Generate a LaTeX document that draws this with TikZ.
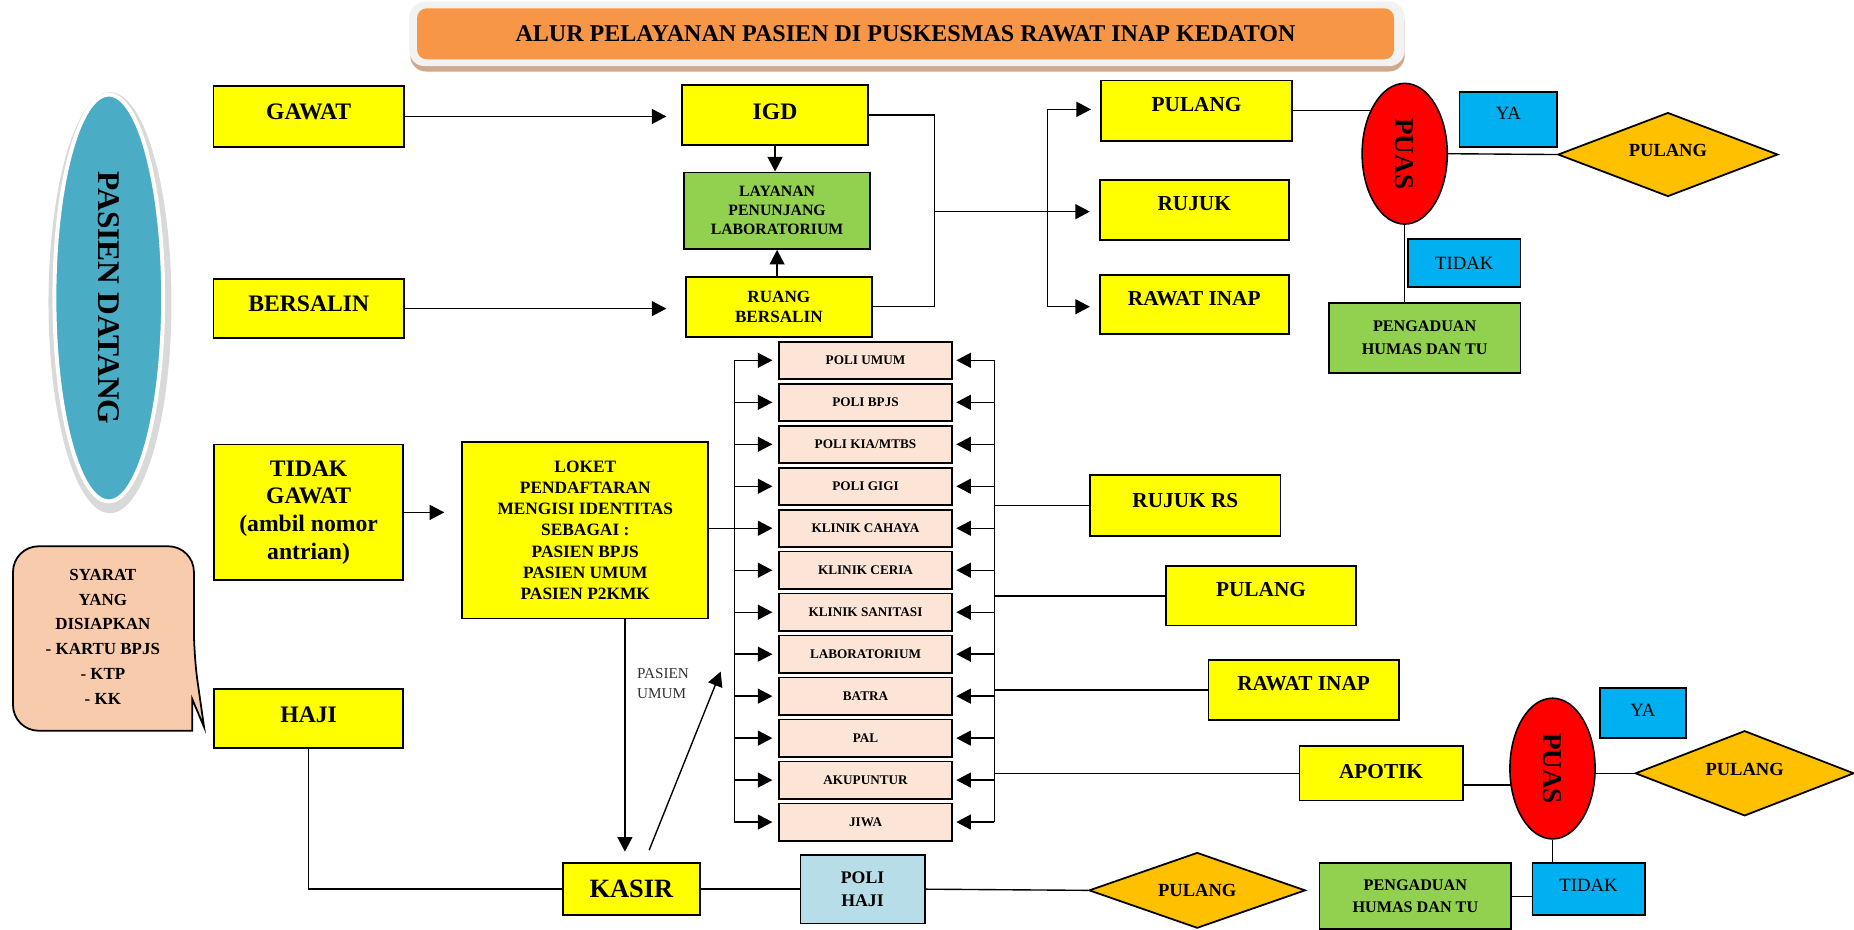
\documentclass[tikz,border=0pt]{standalone}
\usepackage{fontspec}
\setmainfont{Liberation Serif}
\usetikzlibrary{arrows.meta,shapes.geometric}
\pgfdeclarelayer{bg}
\pgfsetlayers{bg,main}
\definecolor{yel}{HTML}{FFFF00}
\definecolor{grn}{HTML}{92D050}
\definecolor{peach}{HTML}{FCE4D6}
\definecolor{sky}{HTML}{00B0F0}
\definecolor{gold}{HTML}{FFC000}
\definecolor{titleor}{HTML}{F79646}
\definecolor{titleframe}{HTML}{F2F2F2}
\definecolor{titleshadow}{HTML}{CFA98A}
\definecolor{tealb}{HTML}{4BACC6}
\definecolor{ellrim}{HTML}{D9D9D9}
\definecolor{lblue}{HTML}{B7DEE8}
\definecolor{callout}{HTML}{F8CBAD}
\newcommand{\mkbox}[7]{\node[#2, minimum width={(#5-#3)*0.6pt}, minimum height={(#6-#4)*0.6pt}] (#1) at ({(#3+#5)/2},{(#4+#6)/2}) {#7};}
\newcommand{\liftup}[2]{\raisebox{#1}[\height][\depth]{#2}}
\newcommand{\fsz}[2]{\fontsize{#1}{#2}\selectfont}
\begin{document}
\begin{tikzpicture}[x=0.6pt, y=-0.6pt,
 box/.style={draw=black, line width=0.9pt, inner sep=0pt, align=center},
 ybox/.style={box, fill=yel},
 gbox/.style={box, fill=grn},
 bbox/.style={box, fill=sky, font=\fsz{9.5}{11}},
 pbox/.style={box, fill=peach, font=\bfseries\fsz{6.7}{8}, minimum width=87.6pt, minimum height=18.9pt},
 fA/.style={font=\bfseries\fsz{12}{14.1}},
 fB/.style={font=\bfseries\fsz{10.8}{13}},
 conn/.style={line width=0.7pt, draw=black},
 arr/.style={conn, -{Triangle[length=7.4pt,width=7.6pt]}},
 dia/.style={diamond, fill=gold, draw=black, line width=0.9pt, inner sep=0pt, aspect=2.6, font=\bfseries\fsz{9.4}{11}},
 puas/.style={ellipse, fill=red, draw=black, line width=0.8pt, inner sep=0pt, minimum width=43.2pt, minimum height=71.4pt, font=\bfseries\fsz{13.8}{16}},
]
\useasboundingbox (0,0) rectangle (1568,786.5);
\clip (0,0) rectangle (1568,786.5);

% title
\fill[titleshadow, rounded corners=8pt] (347,6) rectangle (1188,60.5);
\fill[titleframe, rounded corners=8pt] (346,1.4) rectangle (1188,56);
\mkbox{title}{fill=titleor, rounded corners=5pt, inner sep=0pt, font=\bfseries\fsz{12.2}{14}}{352.7}{7}{1179}{50.2}{ALUR PELAYANAN PASIEN DI PUSKESMAS RAWAT INAP KEDATON}

% pasien datang
\fill[ellrim] (93,256) ellipse [x radius=52, y radius=178];
\node[ellipse, fill=tealb, draw=white, line width=2pt, inner sep=0pt, minimum width=55.2pt, minimum height=206.4pt, font=\bfseries\fsz{16}{18}] (pd) at (92,252) {\rotatebox{-90}{PASIEN DATANG}};

% left column
\mkbox{gawat}{ybox,fA}{180.6}{73}{341.6}{124}{\liftup{2.4pt}{GAWAT}}
\mkbox{bersalin}{ybox,fA}{180.6}{236}{341.6}{286}{\liftup{2.4pt}{BERSALIN}}
\mkbox{tg}{ybox,fA}{181}{376}{341}{490.7}{TIDAK\\GAWAT\\(ambil nomor\\antrian)}
\mkbox{haji}{ybox,fA}{181}{582.5}{341}{632.7}{\liftup{2pt}{HAJI}}

% syarat callout
\draw[fill=callout, line width=0.9pt, rounded corners=13pt] (11,462) -- (164,462) -- (164,555) [sharp corners] -- (172.6,615) -- (162.5,591) -- (162.5,618) [rounded corners=13pt] -- (11,618) -- cycle;
\node[align=center, font=\bfseries\fsz{8.6}{12.6}] (syarat) at (87,538.5) {SYARAT\\YANG\\DISIAPKAN\\- KARTU BPJS\\- KTP\\- KK};

% top middle
\mkbox{igd}{ybox,fA}{577}{72}{734}{122.6}{\liftup{1.7pt}{IGD}}
\mkbox{lab}{gbox, font=\bfseries\fsz{8}{9.6}}{578.4}{145.8}{736}{210.6}{LAYANAN\\PENUNJANG\\LABORATORIUM}
\mkbox{ruang}{ybox, font=\bfseries\fsz{8.7}{10.2}}{580}{234}{737.4}{284.7}{RUANG\\BERSALIN}

% top right
\mkbox{pulangA}{ybox,fB}{931}{68}{1093}{119}{\liftup{2.8pt}{PULANG}}
\mkbox{rujukA}{ybox,fB}{930}{152}{1090}{203}{\liftup{3pt}{RUJUK}}
\mkbox{rawatA}{ybox,fB}{930}{232.6}{1090}{282.7}{\liftup{2.8pt}{RAWAT INAP}}
\node[puas] (puasA) at (1188,130) {\rotatebox{-90}{PUAS}};
\mkbox{yaA}{bbox}{1234.4}{77.5}{1316.8}{124}{\liftup{3pt}{YA}}
\node[dia, minimum width=111.6pt, minimum height=42.6pt] (plA) at (1410.6,130.7) {\liftup{2pt}{PULANG}};
\mkbox{tdA}{bbox}{1190.8}{202}{1285.9}{243}{TIDAK}
\mkbox{pgA}{gbox, font=\bfseries\fsz{8.2}{11.4}}{1123.8}{256}{1286}{315.2}{PENGADUAN\\HUMAS DAN TU}

% loket
\mkbox{loket}{ybox, font=\bfseries\fsz{8.8}{10.8}}{391}{374}{599}{523}{LOKET\\PENDAFTARAN\\MENGISI IDENTITAS\\SEBAGAI :\\PASIEN BPJS\\PASIEN UMUM\\PASIEN P2KMK}

% poli column
\foreach \t [count=\i] in {POLI UMUM,POLI BPJS,POLI KIA/MTBS,POLI GIGI,KLINIK CAHAYA,KLINIK CERIA,KLINIK SANITASI,LABORATORIUM,BATRA,PAL,AKUPUNTUR,JIWA}
  \node[pbox] (p\i) at (732,{304.75+35.5*(\i-1)}) {\t};

% right of poli
\mkbox{rujukRS}{ybox,fB}{922}{402}{1083}{453}{\liftup{2.7pt}{RUJUK RS}}
\mkbox{pulangB}{ybox,fB}{986}{479}{1147}{529}{\liftup{3pt}{PULANG}}
\mkbox{rawatB}{ybox,fB}{1022}{558}{1183}{609}{\liftup{3.3pt}{RAWAT INAP}}
\mkbox{apotik}{ybox,fB}{1099}{631}{1237}{677}{\liftup{1pt}{APOTIK}}
\node[puas] (puasB) at (1313,650) {\rotatebox{-90}{PUAS}};
\mkbox{yaB}{bbox}{1353}{582}{1426}{624}{\liftup{1.2pt}{YA}}
\node[dia, minimum width=111pt, minimum height=43.2pt] (plB) at (1475.5,654) {\liftup{2pt}{PULANG}};
\mkbox{tdB}{bbox}{1296}{730}{1391}{774}{\liftup{1.8pt}{TIDAK}}
\mkbox{pgB}{gbox, font=\bfseries\fsz{8.2}{11}}{1116}{730}{1278}{786}{PENGADUAN\\HUMAS DAN TU}

% bottom
\mkbox{kasir}{ybox, font=\bfseries\fsz{13.4}{16}}{476}{730}{592}{774}{KASIR}
\mkbox{polihaji}{box, fill=lblue, font=\bfseries\fsz{9}{12}}{677}{723}{782}{781}{POLI\\HAJI}
\node[dia, minimum width=109.8pt, minimum height=38.4pt] (plC) at (1012.5,753) {PULANG};
\node[align=left, anchor=north west, text=black!80, inner sep=0pt, font=\fsz{7.7}{10.2}] (pu) at (538.5,565) {PASIEN\\UMUM};

% connectors
\coordinate (jA) at (790.5,179);
\coordinate (bA1) at (886,92.5);
\coordinate (bA2) at (886,259.4);
\coordinate (LB1) at (621,304.75);
\coordinate (LB2) at (621,695.25);
\coordinate (RB1) at (841,304.75);
\coordinate (RB2) at (841,695.25);
\coordinate (su1) at (549,719);
\coordinate (su2) at (609.5,568);
\coordinate (kd) at (528.5,600);
\begin{pgfonlayer}{bg}
\draw[arr, shorten >=7.6pt] (gawat.east) -- (gawat.east -| igd.west);
\draw[arr, shorten >=9.4pt] (bersalin.east) -- (bersalin.east -| ruang.west);
\draw[arr] (igd.south) -- (igd.south |- lab.north);
\draw[arr] (lab.south |- ruang.north) -- (lab.south);
\draw[conn] (igd.east) -| (jA) |- (ruang.east);
\draw[arr, shorten >=4.5pt] (jA) -- (jA -| rujukA.west);
\draw[conn] (bA1) -- (bA2);
\draw[arr, shorten >=4.5pt] (bA1) -- (bA1 -| pulangA.west);
\draw[arr, shorten >=4.5pt] (bA2) -- (bA2 -| rawatA.west);
\draw[conn] (pulangA.east) -- (pulangA.east -| puasA.center);
\draw[conn] (puasA.east) -- (plA.west);
\draw[conn] (puasA.south) -- (puasA.south |- pgA.north);
\draw[arr, shorten >=8.7pt] (tg.east) -- (tg.east -| loket.west);
\draw[conn] (loket.east |- p5.west) -- (LB1 |- p5.west);
\draw[conn] (LB1) -- (LB2);
\draw[conn] (RB1) -- (RB2);
\foreach \i in {1,...,12}{
  \draw[arr, shorten >=3pt] (LB1 |- p\i.west) -- (p\i.west);
  \draw[arr, shorten >=1.8pt] (RB1 |- p\i.east) -- (p\i.east);
}
\draw[conn] (rujukRS.west) -- (rujukRS.west -| RB1);
\draw[conn] (pulangB.west) -- (pulangB.west -| RB1);
\draw[conn] (rawatB.west) -- (rawatB.west -| RB1);
\draw[conn] (apotik.west) -- (apotik.west -| RB1);
\draw[conn] ([yshift=8.4pt]apotik.south east) -- ([yshift=8.4pt]apotik.south east -| puasB.center);
\draw[conn] (plB.west) -- (plB.west -| puasB.center);
\draw[conn] (puasB.south) -- (puasB.south |- tdB.north);
\draw[conn] (pgB.east) -- (pgB.east -| tdB.west);
\draw[arr, shorten >=5.4pt] (loket.south -| kd) -- (kasir.north -| kd);
\draw[arr] (su1) -- (su2);
\draw[conn] (haji.south) |- (kasir.west);
\draw[conn] (kasir.east) -- (polihaji.west);
\draw[conn] (polihaji.east) -- (plC.west);
\end{pgfonlayer}
\end{tikzpicture}
\end{document}
